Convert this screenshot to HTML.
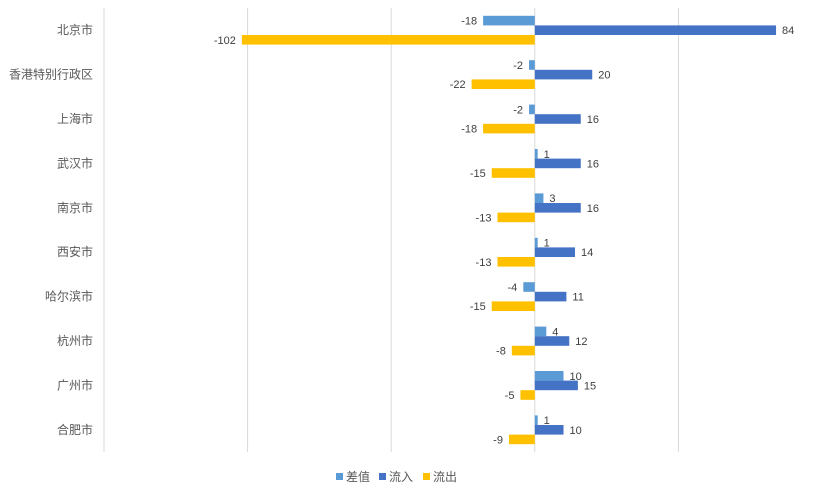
<!DOCTYPE html>
<html><head><meta charset="utf-8"><style>
body{margin:0;background:#fff;font-family:"Liberation Sans","Noto Sans CJK SC",sans-serif;}
svg text{font-family:"Liberation Sans","Noto Sans CJK SC",sans-serif;}
</style></head><body>
<svg id="c" width="820" height="490" xmlns="http://www.w3.org/2000/svg"></svg>
<script>
const categories=["北京市","香港特别行政区","上海市","武汉市","南京市","西安市","哈尔滨市","杭州市","广州市","合肥市"];
const diffValues=[-18,-2,-2,1,3,1,-4,4,10,1];
const inflowValues=[84,20,16,16,16,14,11,12,15,10];
const outflowValues=[-102,-22,-18,-15,-13,-13,-15,-8,-5,-9];
const gridTicks=[-150,-100,-50,0,50,100];
const seriesNames=["差值","流入","流出"];
const colors=["#5b9bd5","#4472c4","#ffc000"];
const NS="http://www.w3.org/2000/svg";
const svgEl=document.getElementById('c');
const x0=104,x1=822,vmin=-150,vmax=100,plotTop=8,plotBot=452;
const xs=v=>x0+(v-vmin)/(vmax-vmin)*(x1-x0);
const band=(plotBot-plotTop)/categories.length;
const yc=i=>plotTop+band*(i+0.5);
function mk(t,a){const e=document.createElementNS(NS,t);for(const k in a)e.setAttribute(k,a[k]);svgEl.appendChild(e);return e;}
gridTicks.forEach(t=>{
 const l=mk('line',{x1:xs(t),x2:xs(t),y1:plotTop,y2:plotBot,stroke:'#d9d9d9','stroke-width':1});
 
 
});
const series=[diffValues,inflowValues,outflowValues];
const bh=9.6;
categories.forEach((c,i)=>{
 const t=mk('text',{x:93,y:yc(i)+4,'text-anchor':'end','font-size':12,fill:'#595959'});
 t.textContent=c;
 
 
 series.forEach((s,k)=>{
  const v=s[i];const y=yc(i)+(k-1)*bh-bh/2;
  const xa=Math.min(xs(0),xs(v)),w=Math.abs(xs(v)-xs(0));
  const r=mk('rect',{x:xa,y:y,width:Math.max(w,0.5),height:bh,fill:colors[k]});
  
  
  const lb=mk('text',{x:v>=0?xs(v)+6:xs(v)-6,y:y+bh/2+4,'text-anchor':v>=0?'start':'end','font-size':11,fill:'#404040'});
  lb.textContent=v;
  
  
 });
});
const lx=[336,379,423];
seriesNames.forEach((n,k)=>{
 const r=mk('rect',{x:lx[k],y:473,width:7,height:7,fill:colors[k]});
 
 
 const t=mk('text',{x:lx[k]+10,y:481,'font-size':12,fill:'#595959'});
 t.textContent=n;
 
 
});
</script>
</body></html>
